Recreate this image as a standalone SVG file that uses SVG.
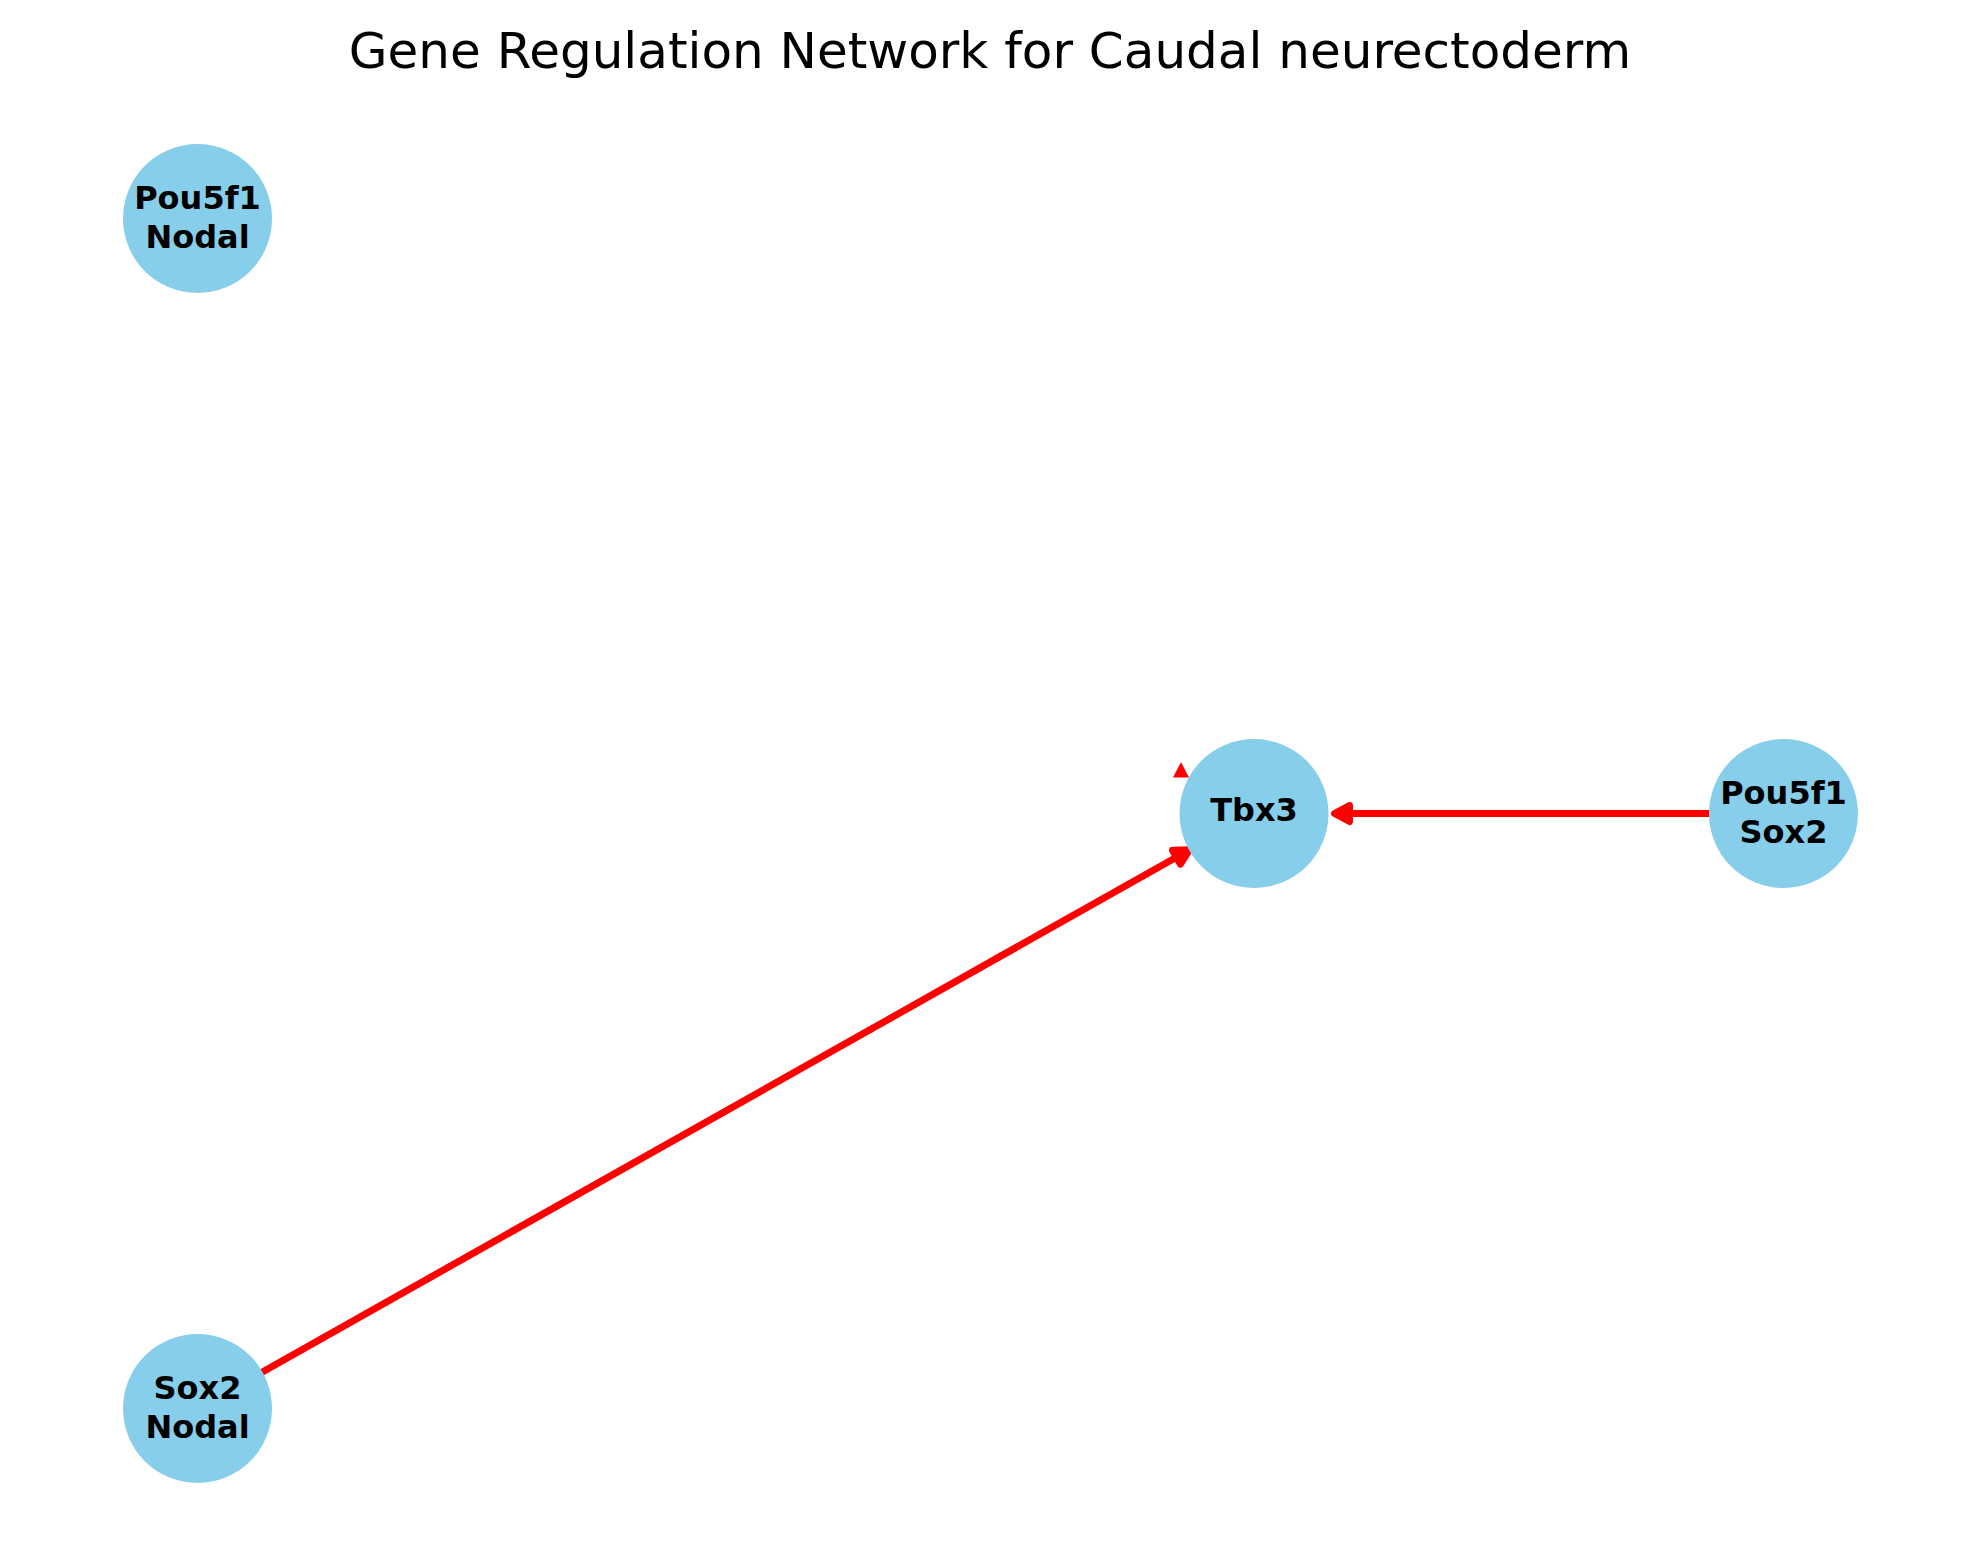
<svg xmlns="http://www.w3.org/2000/svg" width="1980" height="1563" viewBox="0 0 1980 1563">
  <style>
    .node { fill: #87CEEB; }
    .lbl { font-family: "DejaVu Sans", "Liberation Sans", sans-serif; font-weight: bold; font-size: 32px; fill: #000; text-anchor: middle; }
    .title { font-family: "DejaVu Sans", "Liberation Sans", sans-serif; font-size: 50px; fill: #000; text-anchor: middle; }
    .edge { stroke: #FF0000; stroke-width: 7; fill: none; marker-end: url(#ah); }
  </style>
  <defs>
    <marker id="ah" markerUnits="userSpaceOnUse" orient="auto" viewBox="-23 -13 28 26" markerWidth="28" markerHeight="26" refX="-12" refY="0" overflow="visible">
      <path d="M0,0 L-15,-8 L-15,8 Z" fill="#FF0000" stroke="#FF0000" stroke-width="7" stroke-linejoin="round"/>
    </marker>
  </defs>
  <rect width="1980" height="1563" fill="#FFFFFF"/>
  <text class="title" x="990" y="68">Gene Regulation Network for Caudal neurectoderm</text>
  <g id="edges">
    <line class="edge" x1="1783.5" y1="813.5" x2="1346.5" y2="813.5"/>
    <line class="edge" x1="197.5" y1="1408.5" x2="1179.05" y2="855.68"/>
    <path d="M1181,762 L1173,777.5 L1189,777.5 Z" fill="#FF0000"/>
  </g>
  <g id="node-pou5f1-nodal">
    <circle class="node" cx="197.5" cy="218.5" r="74.5"/>
    <text class="lbl" x="197.5" y="208.5">Pou5f1</text>
    <text class="lbl" x="197.5" y="247.5">Nodal</text>
  </g>
  <g id="node-tbx3">
    <circle class="node" cx="1254" cy="813.5" r="74.5"/>
    <text class="lbl" x="1254" y="821">Tbx3</text>
  </g>
  <g id="node-pou5f1-sox2">
    <circle class="node" cx="1783.5" cy="813.5" r="74.5"/>
    <text class="lbl" x="1783.5" y="803.5">Pou5f1</text>
    <text class="lbl" x="1783.5" y="842.5">Sox2</text>
  </g>
  <g id="node-sox2-nodal">
    <circle class="node" cx="197.5" cy="1408.5" r="74.5"/>
    <text class="lbl" x="197.5" y="1398.5">Sox2</text>
    <text class="lbl" x="197.5" y="1437.5">Nodal</text>
  </g>
</svg>
